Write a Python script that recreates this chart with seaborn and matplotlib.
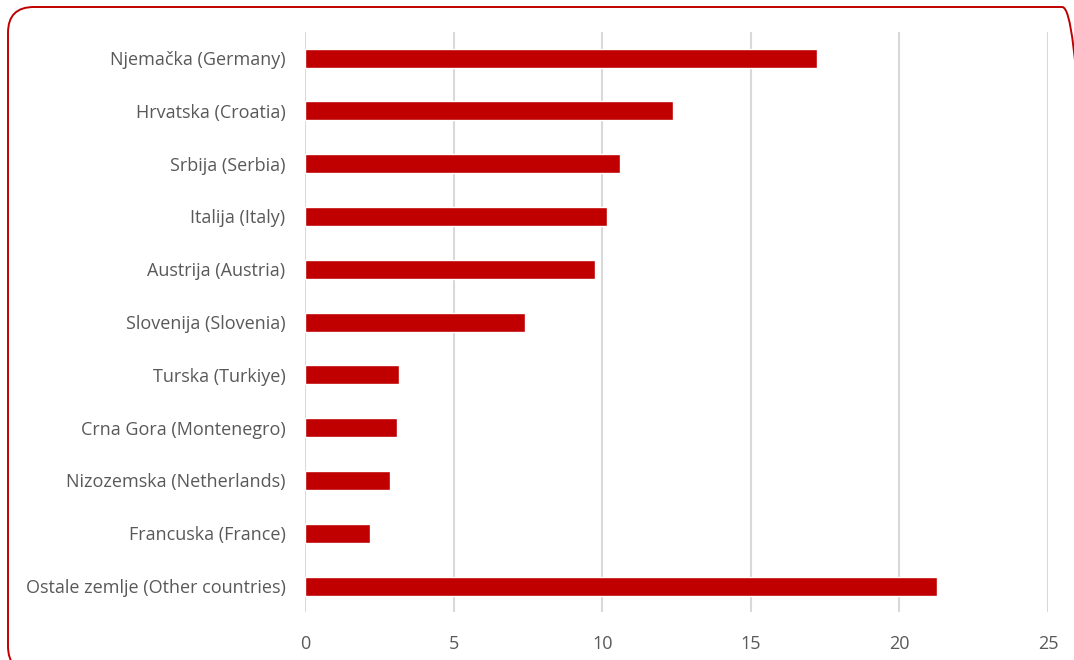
import matplotlib
matplotlib.use("Agg")
import matplotlib.pyplot as plt
import seaborn as sns
import pandas as pd
from matplotlib.patches import FancyBboxPatch

countries = [
    "Njemačka (Germany)",
    "Hrvatska (Croatia)",
    "Srbija (Serbia)",
    "Italija (Italy)",
    "Austrija (Austria)",
    "Slovenija (Slovenia)",
    "Turska (Turkiye)",
    "Crna Gora (Montenegro)",
    "Nizozemska (Netherlands)",
    "Francuska (France)",
    "Ostale zemlje (Other countries)",
]
shares = [17.23, 12.38, 10.6, 10.16, 9.76, 7.4, 3.16, 3.1, 2.86, 2.19, 21.27]
x_ticks = [0, 5, 10, 15, 20, 25]

df = pd.DataFrame({"country": countries, "share": shares})

sns.set_theme(style="white")
plt.rcParams["font.family"] = ["Open Sans", "DejaVu Sans"]

fig = plt.figure(figsize=(10.74, 6.6), dpi=100)
ax = fig.add_axes([0.284, 0.0721, 0.6918, 0.8800])

sns.barplot(data=df, x="share", y="country", color="#C00000", width=0.36,
            saturation=1, ax=ax, zorder=3)

ax.set_xlim(0, 25)
ax.set_ylim(10.5, -0.5)
ax.set_xticks(x_ticks)
ax.set_xticklabels([str(t) for t in x_ticks])
ax.xaxis.grid(True, color="#d9d9d9", linewidth=1.5, zorder=0)
ax.set_axisbelow(True)
ax.set_xlabel("")
ax.set_ylabel("")
for s in ax.spines.values():
    s.set_visible(False)
ax.tick_params(axis="both", length=0, labelsize=13, labelcolor="#595959")
ax.tick_params(axis="x", pad=16)
ax.tick_params(axis="y", pad=14)

# rounded red frame around the chart
W, H = 1074, 660
frame = FancyBboxPatch((8 / W, -12 / H), 1080 / W, (660 - 7 + 12) / H,
                       boxstyle="round,pad=0,rounding_size=0.024",
                       transform=fig.transFigure, fill=False,
                       edgecolor="#C00000", linewidth=1.4, clip_on=False,
                       mutation_aspect=W / H)
fig.patches.append(frame)

fig.savefig("out.png", dpi=100)
